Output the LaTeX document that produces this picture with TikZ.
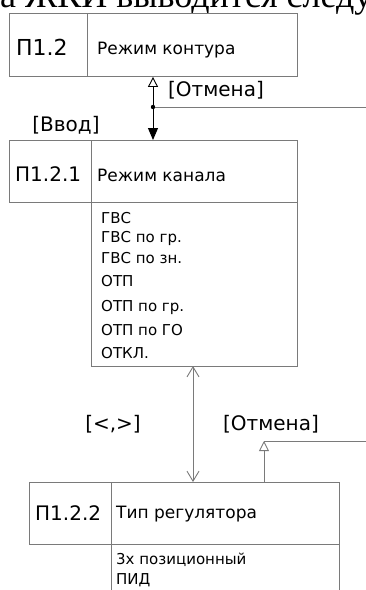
\documentclass[tikz,border=0pt]{standalone}
\usepackage{fontspec}
\setmainfont{DejaVu Sans}
\newfontfamily\serifcap{Liberation Serif}
\usetikzlibrary{arrows.meta}
\definecolor{boxgray}{HTML}{7A7A7A}
\tikzset{
  box/.style={draw=boxgray, line width=0.9pt, anchor=north west, inner sep=0pt},
  idtxt/.style={font=\fontsize{20}{20}\selectfont, anchor=west, inner sep=0pt},
  ttl/.style={font=\fontsize{17}{17}\selectfont, anchor=west, inner sep=0pt},
  item/.style={font=\fontsize{15}{15}\selectfont, anchor=west, inner sep=0pt},
  lbl/.style={font=\fontsize{20}{20}\selectfont, anchor=center, inner sep=0pt},
  blk/.style={line width=0.9pt, black},
  gry/.style={line width=0.9pt, boxgray},
}
\begin{document}
\begin{tikzpicture}[x=1pt,y=-1pt]
\clip (0,0) rectangle (366,590);
\useasboundingbox (0,0) rectangle (366,590);
\node[font=\serifcap\fontsize{36}{36}\selectfont, anchor=base west, inner sep=0pt] (head) at (0,7) {а ЖКИ выводится следующее};
% box 1
\node[box, minimum width=78pt, minimum height=63pt] (b1id) at (9,13) {};
\node[box, minimum width=210pt, minimum height=63pt] (b1t) at (87,13) {};
\node[idtxt, font=\fontsize{22}{22}\selectfont] (t1id) at (16,47) {П1.2};
\node[ttl] (t1t) at (97,50) {Режим контура};
% box 2
\node[box, minimum width=82pt, minimum height=62pt] (b2id) at (9,140) {};
\node[box, minimum width=206pt, minimum height=62pt] (b2t) at (91,140) {};
\node[box, minimum width=206pt, minimum height=164pt] (b2l) at (91,202) {};
\node[idtxt] (t2id) at (15,174) {П1.2.1};
\node[ttl] (t2t) at (97,175) {Режим канала};
\node[item] (i1) at (101,218) {ГВС};
\node[item] (i2) at (101,238) {ГВС по гр.};
\node[item] (i3) at (101,258) {ГВС по зн.};
\node[item] (i4) at (101,281) {ОТП};
\node[item] (i5) at (101,307) {ОТП по гр.};
\node[item] (i6) at (101,330) {ОТП по ГО};
\node[item] (i7) at (101,353) {ОТКЛ.};
% box 3
\node[box, minimum width=82pt, minimum height=62pt] (b3id) at (29,482) {};
\node[box, minimum width=228pt, minimum height=62pt] (b3t) at (111,482) {};
\node[box, minimum width=228pt, minimum height=60pt] (b3l) at (111,544) {};
\node[idtxt] (t3id) at (35,513) {П1.2.2};
\node[ttl] (t3t) at (116,514) {Тип регулятора};
\node[item] (j1) at (116,560) {3х позиционный};
\node[item] (j2) at (116,580) {ПИД};
% top connectors
\coordinate (d1) at (153,107);
\coordinate (r1) at (366,107);
\draw[blk, -{Triangle[open, length=10pt, width=10pt]}] (d1) -- (d1 |- b1t.south);
\draw[blk, -{Triangle[length=12pt, width=10pt]}] (d1) -- (d1 |- b2t.north);
\draw[gry] (d1) -- (r1);
\fill (d1) circle (2.2);
\node[lbl] (l1) at (216,90) {[Отмена]};
\node[lbl] (l2) at (66,125) {[Ввод]};
% lower connectors
\coordinate (a1) at (193,366);
\draw[gry, {Straight Barb[length=10pt, width=12pt]}-{Straight Barb[length=10pt, width=12pt]}] (a1) -- (a1 |- b3t.north);
\coordinate (c1) at (264,441);
\coordinate (r2) at (366,440);
\draw[gry, -{Triangle[open, length=10pt, width=10pt]}] (c1 |- b3t.north) -- (c1);
\draw[gry] (c1) -- (c1 -| r2);
\node[lbl] (l3) at (113,424) {[<,>]};
\node[lbl] (l4) at (271,424) {[Отмена]};
\end{tikzpicture}
\end{document}
